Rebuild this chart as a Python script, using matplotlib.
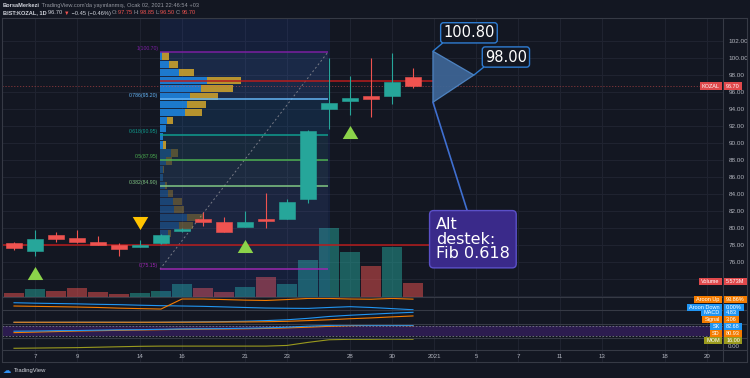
import matplotlib
matplotlib.use('Agg')
import matplotlib.pyplot as plt
from matplotlib.patches import Rectangle, Polygon

plt.rcParams['font.family'] = ['Liberation Sans', 'DejaVu Sans']

W, H = 750, 378
BG = '#131722'
GRID = '#1f2330'
SEP = '#363a45'
TXT = '#b2b5be'
UP = '#26a69a'
DN = '#ef5350'
ORANGE = '#f57c00'
BLUE = '#2196f3'
OLIVE = '#9a9a1e'

# ---------------- data ----------------
bar_idx = list(range(-1, 19))
opens  = [78.2, 77.3, 79.2, 78.8, 78.4, 77.96, 77.8, 78.2, 79.6, 81.0, 80.75, 80.15, 80.9, 81.1, 83.4, 93.96, 95.0, 95.5, 95.5, 97.75]
highs  = [78.35, 79.8, 79.5, 79.8, 79.0, 78.2, 78.6, 79.3, 80.0, 81.9, 81.3, 82.0, 84.1, 83.4, 91.5, 100.0, 97.9, 99.96, 100.6, 98.85]
lows   = [77.4, 76.7, 78.3, 78.2, 77.95, 76.7, 77.75, 78.1, 79.5, 80.2, 79.5, 80.1, 80.0, 81.0, 82.9, 91.6, 93.3, 93.1, 94.6, 96.5]
closes = [77.6, 78.7, 78.7, 78.3, 78.0, 77.57, 78.0, 79.2, 79.9, 80.7, 79.5, 80.7, 80.8, 83.1, 91.4, 94.7, 95.3, 95.2, 97.2, 96.7]
volumes_m = [1.7, 3.2, 2.5, 3.6, 2.0, 1.3, 1.7, 2.5, 5.2, 3.7, 2.0, 4.1, 8.0, 5.2, 14.7, 27.5, 17.9, 12.3, 19.9, 5.573]

aroon_up   = [33, 30, 27, 24, 20, 14, 10, 6, 95, 95, 90, 85, 82, 90, 100, 100, 95, 93, 100, 93.86]
aroon_down = [62, 58, 55, 52, 48, 45, 40, 36, 33, 30, 25, 20, 15, 13, 12, 20, 27, 20, 10, 0]
macd   = [-0.05, -0.05, -0.03, 0.0, 0.0, -0.02, -0.05, 0.0, 0.1, 0.2, 0.3, 0.5, 0.8, 1.2, 1.9, 2.8, 3.4, 3.9, 4.4, 4.83]
signal = [0.0, 0.0, 0.0, 0.0, 0.0, 0.0, 0.0, 0.0, 0.02, 0.05, 0.1, 0.15, 0.25, 0.45, 0.8, 1.2, 1.7, 2.1, 2.6, 3.06]
stoch_k = [49, 50, 52, 53, 55, 57, 58, 60, 62, 63, 64, 66, 68, 72, 78, 82, 84, 83, 83, 82.68]
stoch_d = [41, 44, 47, 50, 52, 54, 56, 58, 60, 61, 62, 63, 65, 68, 72, 77, 81, 83, 83, 80.93]
mom = [-4.5, -4, -3.5, -3, -2, -1, 0, 0.5, 0.5, 0.5, 0.5, 0.5, 0.5, 2, 9, 15, 16, 16, 16.5, 16]

date_tick_idx = [0, 2, 5, 7, 10, 12, 15, 17, 19, 21, 23, 25, 27, 30, 32]
date_tick_labels = ['7', '9', '14', '16', '21', '23', '28', '30', '2021', '5', '7', '11', '13', '18', '20']
price_grid = [72, 74, 76, 78, 80, 82, 84, 86, 88, 90, 92, 94, 96, 98, 100, 102]
price_labels = [76, 78, 80, 82, 84, 86, 88, 90, 92, 94, 96, 98, 100, 102]

fib_ratios = ['1', '0.786', '0.618', '0.5', '0.382', '0']
fib_prices = [100.70, 95.20, 90.95, 87.95, 84.90, 75.15]
fib_colors = ['#7b1fa2', '#64b5f6', '#0f9d8f', '#4caf50', '#81c784', '#9c27b0']
fib_fill_colors = ['#64b5f6', '#0f9d8f', '#4caf50', '#81c784', '#787b86']
fib_start, fib_end = 5.95, 13.95

vp_top, vp_row = 100.7, 0.95
vp_up_vol   = [2, 9.3, 19, 47, 41, 29.7, 27, 25.3, 6.7, 6, 2.7, 2.7, 10.7, 6, 2.7, 2.7, 5, 8.3, 13.3, 14, 26.7, 19, 8.3, 5]
vp_down_vol = [7, 8.4, 15.3, 34.3, 32.3, 28, 19, 16.4, 6.6, 0, 0, 3, 7, 5.7, 1.3, 0, 2.3, 4.4, 8.4, 9.7, 16.6, 13.7, 3, 2.3]
vp_value_area_rows = 12

hline_prices = [97.3, 78.0]
last_price = 96.70
up_sig_idx, up_sig_price = [0, 10, 15], [74.7, 77.9, 91.3]
dn_sig_idx, dn_sig_price = [5], [80.6]

tri_idx = [18.95, 20.9, 18.95]
tri_price = [100.80, 98.00, 94.80]

# ---------------- layout helpers ----------------
def rect(x0, y0, x1, y1):
    return [x0 / W, 1 - y1 / H, (x1 - x0) / W, (y1 - y0) / H]

XL = ((2 - 35) / 21, (723 - 35) / 21)
PL = (71.88, 104.71)

fig = plt.figure(figsize=(W / 100, H / 100), dpi=100, facecolor=BG)

def clean(a):
    a.set_xlim(*XL)
    a.set_xticks([])
    a.set_yticks([])
    for s in a.spines.values():
        s.set_visible(False)

# background / grid axes for main pane
ax_bg = fig.add_axes(rect(2, 18, 723, 297))
ax_bg.set_facecolor(BG)
clean(ax_bg)
ax_bg.set_ylim(*PL)
for p in price_grid:
    ax_bg.axhline(p, color=GRID, lw=0.8, zorder=0)
for d in date_tick_idx:
    ax_bg.axvline(d, color=GRID, lw=0.8, zorder=0)
ax_bg.yaxis.tick_right()
ax_bg.set_yticks(price_labels)
ax_bg.set_yticklabels([f'{p:.2f}' for p in price_labels])
ax_bg.tick_params(axis='y', length=0, pad=4, labelsize=4.6, labelcolor=TXT)

# volume axes
ax_vol = fig.add_axes(rect(2, 18, 723, 297))
ax_vol.set_facecolor('none')
clean(ax_vol)
ax_vol.set_ylim(0, 111)
ax_vol.bar(bar_idx, volumes_m, width=0.94,
           color=[UP if c >= o else DN for o, c in zip(opens, closes)], alpha=0.5, lw=0)

# main price axes
ax = fig.add_axes(rect(2, 18, 723, 297))
ax.set_facecolor('none')
clean(ax)
ax.set_ylim(*PL)

# volume profile background
ax.axvspan(fib_start, fib_end + 0.1, color='#2962ff', alpha=0.11, lw=0, zorder=1)
# fib fills
for k in range(len(fib_prices) - 1):
    ax.fill_between([fib_start, fib_end], fib_prices[k + 1], fib_prices[k],
                    color=fib_fill_colors[k], alpha=0.07, lw=0, zorder=1)
# fib diagonal
ax.plot([fib_start, fib_end], [fib_prices[-1], fib_prices[0]], color='#787b86',
        lw=0.7, ls=(0, (2, 2.5)), zorder=2)

# volume profile rows
for r, (u, d) in enumerate(zip(vp_up_vol, vp_down_vol)):
    yc = vp_top - (r + 0.5) * vp_row
    a = 0.85 if r < vp_value_area_rows else 0.32
    ax.barh(yc, u / 21, height=vp_row * 0.9, left=fib_start, color='#1e88e5', alpha=a, lw=0, zorder=3)
    if d > 0:
        ax.barh(yc, d / 21, height=vp_row * 0.9, left=fib_start + u / 21, color='#d4a72c', alpha=a, lw=0, zorder=3)

# fib level lines + labels
for ratio, price, col in zip(fib_ratios, fib_prices, fib_colors):
    ax.hlines(price, fib_start, fib_end, color=col, lw=1.1, zorder=4)
    ax.text(fib_start - 0.08, price + 0.12, f'{ratio}({price:.2f})', ha='right', va='bottom',
            fontsize=3.7, color=col, zorder=4)

# horizontal drawn lines
ax.hlines(hline_prices[0], fib_start, 18.95, color='#b71c1c', lw=1.1, zorder=4)
ax.hlines(hline_prices[1], XL[0], 18.95, color='#b71c1c', lw=1.1, zorder=4)
ax.axhline(last_price, color='#ef5350', lw=0.6, ls=(0, (1.5, 2)), alpha=0.55, zorder=4)

# candles
for i, o, h, l, c in zip(bar_idx, opens, highs, lows, closes):
    col = UP if c >= o else DN
    ax.vlines(i, l, h, color=col, lw=0.8, zorder=5)
    ax.add_patch(Rectangle((i - 0.39, min(o, c)), 0.78, max(abs(c - o), 0.2),
                           facecolor=col, edgecolor=col, lw=0.4, zorder=6))

# signal markers
tri_up = [(-1, -0.84), (1, -0.84), (0, 0.84)]
tri_dn = [(-1, 0.84), (1, 0.84), (0, -0.84)]
ax.plot(up_sig_idx, up_sig_price, ls='none', marker=tri_up, ms=11.2, color='#8bd34a', mew=0, zorder=8)
ax.plot(dn_sig_idx, dn_sig_price, ls='none', marker=tri_dn, ms=11.2, color='#ffc400', mew=0, zorder=8)

# triangle pattern drawing
ax.add_patch(Polygon(list(zip(tri_idx, tri_price)), closed=True, facecolor='#3d6494',
                     edgecolor='#4f86c6', lw=0.9, alpha=0.95, zorder=9, clip_on=False))
CB = '#2f7cd1'
ax.annotate(f'{tri_price[0]:.2f}', xy=(tri_idx[0], tri_price[0]), xytext=(36, 18.4),
            textcoords='offset pixels', ha='center', va='center', fontsize=10.5,
            family='DejaVu Sans', color='white', zorder=20, annotation_clip=False,
            bbox=dict(boxstyle='round,pad=0.18,rounding_size=0.2', fc=BG, ec=CB, lw=1),
            arrowprops=dict(arrowstyle='-', color=CB, lw=1, relpos=(0.05, 0), shrinkA=0, shrinkB=0))
ax.annotate(f'{tri_price[1]:.2f}', xy=(tri_idx[1], tri_price[1]), xytext=(32, 18),
            textcoords='offset pixels', ha='center', va='center', fontsize=10.5,
            family='DejaVu Sans', color='white', zorder=20, annotation_clip=False,
            bbox=dict(boxstyle='round,pad=0.18,rounding_size=0.2', fc=BG, ec=CB, lw=1),
            arrowprops=dict(arrowstyle='-', color=CB, lw=1, relpos=(0.05, 0), shrinkA=0, shrinkB=0))
ax.annotate('Alt\ndestek:\nFib 0.618', xy=(tri_idx[2], tri_price[2]), xytext=(3, -137),
            textcoords='offset pixels', ha='left', va='center', fontsize=11.5, linespacing=0.98,
            family='DejaVu Sans', color='white', zorder=20, annotation_clip=False,
            bbox=dict(boxstyle='round,pad=0.4,rounding_size=0.25', fc='#3a2a8a', ec='#5b50c8', lw=1),
            arrowprops=dict(arrowstyle='-', color='#3f6fd0', lw=1.2, relpos=(0.45, 1), shrinkA=0, shrinkB=0))

# ---------------- indicator panes ----------------
def pane(y0, y1, ylim):
    a = fig.add_axes(rect(2, y0, 723, y1))
    a.set_facecolor('none')
    clean(a)
    a.set_ylim(*ylim)
    for d in date_tick_idx:
        a.axvline(d, color=GRID, lw=0.8, zorder=0)
    return a

ax_ar = pane(297.3, 310.3, (-5, 110))
ax_ar.plot(bar_idx, aroon_down, color=BLUE, lw=0.8)
ax_ar.plot(bar_idx, aroon_up, color=ORANGE, lw=0.8)

ax_md = pane(310.3, 324.3, (-1.0, 5.8))
ax_md.plot(bar_idx, macd, color=BLUE, lw=0.8)
ax_md.plot(bar_idx, signal, color=ORANGE, lw=0.8)

ax_st = pane(324.3, 337.7, (11.8, 88.7))
ax_st.axhspan(20, 80, color='#2c1c4f', lw=0, zorder=0)
for lv in (20, 80):
    ax_st.axhline(lv, color='#787b86', lw=0.6, ls=(0, (2, 2)), zorder=1)
ax_st.plot(bar_idx, stoch_d, color=ORANGE, lw=0.8, zorder=2)
ax_st.plot(bar_idx, stoch_k, color=BLUE, lw=0.8, zorder=2)

ax_mo = pane(337.7, 350.3, (-9.1, 19.7))
ax_mo.plot(bar_idx, mom, color=OLIVE, lw=0.8)

ax_dt = pane(350.3, 361.7, (0, 1))
for d, lab in zip(date_tick_idx, date_tick_labels):
    ax_dt.text(d, 0.45, lab, ha='center', va='center', fontsize=4.4, color=TXT)

# ---------------- overlay (frame, header, tags) ----------------
ov = fig.add_axes([0, 0, 1, 1])
ov.set_xlim(0, W)
ov.set_ylim(H, 0)
ov.axis('off')
ov.patch.set_alpha(0)

for yy in (18, 297.3, 310.3, 324.3, 337.7, 350.3, 361.7):
    ov.plot([2, 747], [yy, yy], color=SEP, lw=0.8)
for xx in (2, 723, 747):
    ov.plot([xx, xx], [18, 361.7], color=SEP, lw=0.8)

renderer = fig.canvas.get_renderer()

def text_width(t):
    bb = t.get_window_extent(renderer)
    return bb.width

def seq_text(x, y, pieces, fs):
    for s, col, wt in pieces:
        t = ov.text(x, y, s, fontsize=fs, color=col, fontweight=wt, ha='left', va='center')
        x += text_width(t)
    return x

seq_text(3, 5.5, [('BorsaMerkezi', '#d1d4dc', 'bold'),
                  (" TradingView.com'da yayınlanmış, Ocak 02, 2021 22:46:54 +03", '#9598a1', 'normal')], 4.1)
seq_text(3, 13, [('BIST:KOZAL, 1D ', '#d1d4dc', 'bold'), ('96.70 ', '#d1d4dc', 'normal'),
                 ('▼', DN, 'normal'), (' −0.45 (−0.46%) ', '#d1d4dc', 'normal'),
                 ('O:', '#9598a1', 'normal'), ('97.75 ', DN, 'normal'),
                 ('H:', '#9598a1', 'normal'), ('98.85 ', DN, 'normal'),
                 ('L:', '#9598a1', 'normal'), ('96.50 ', DN, 'normal'),
                 ('C:', '#9598a1', 'normal'), ('96.70', DN, 'normal')], 4.1)

def tag(yc, label, value, col, fs=4.0, h=7.2, tcol='white'):
    pad = 2.2
    t1 = ov.text(722 - pad, yc, label, fontsize=fs, color=tcol, ha='right', va='center', zorder=11)
    w1 = text_width(t1)
    ov.add_patch(Rectangle((722 - w1 - 2 * pad, yc - h / 2), w1 + 2 * pad, h, facecolor=col, lw=0, zorder=10))
    t2 = ov.text(724 + pad, yc, value, fontsize=fs, color=tcol, ha='left', va='center', zorder=11)
    w2 = text_width(t2)
    ov.add_patch(Rectangle((724, yc - h / 2), w2 + 2 * pad, h, facecolor=col, lw=0, zorder=10))

def px_y(a, v):
    return H - a.transData.transform((0, v))[1]

tag(px_y(ax, closes[-1]), 'KOZAL', f'{closes[-1]:.2f}', '#e0494c')
tag(px_y(ax_vol, volumes_m[-1]) - 1.5, 'Volume', f'{volumes_m[-1]:.3f}M', '#e0494c')
tag(299.5, 'Aroon Up', f'{aroon_up[-1]:.2f}%', ORANGE)
tag(307.8, 'Aroon Down', f'{aroon_down[-1]:.2f}%', BLUE)
tag(312.6, 'MACD', f'{macd[-1]:.2f}', BLUE)
tag(319.7, 'Signal', f'{signal[-1]:.2f}', ORANGE)
tag(326.3, 'SK', f'{stoch_k[-1]:.2f}', BLUE)
tag(333.7, 'SD', f'{stoch_d[-1]:.2f}', ORANGE)
tag(340.3, 'MOM', f'{mom[-1]:.2f}', OLIVE)
ov.text(728, 346.5, '0.00', fontsize=4.4, color=TXT, ha='left', va='center')

# logo
ov.text(3, 370.5, '☁', fontsize=6, color='#2f8ff0', family='DejaVu Sans', ha='left', va='center')
ov.text(13.5, 370.5, 'TradingView', fontsize=4.2, color='#d1d4dc', ha='left', va='center')

fig.savefig('out.png', dpi=100, facecolor=BG)
